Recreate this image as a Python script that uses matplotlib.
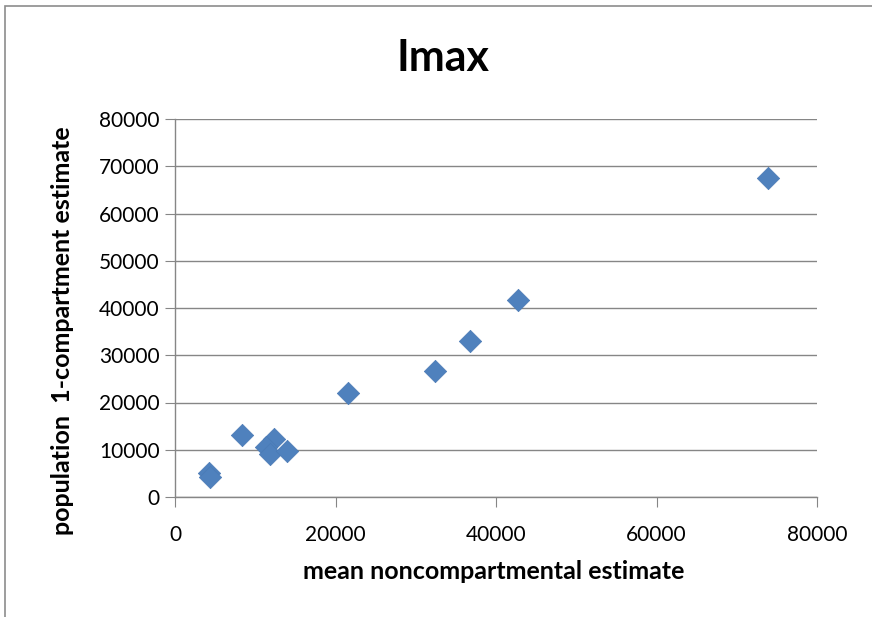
import matplotlib.pyplot as plt
from matplotlib.patches import Rectangle

plt.rcParams['font.family'] = ['Lato', 'DejaVu Sans']

noncompartmental = [73900, 42700, 36800, 32400, 21500, 8300, 12300, 11300, 11900, 13900, 4200, 4400]
one_compartment = [67600, 41600, 33000, 26600, 22000, 13100, 12300, 10600, 9000, 9800, 5000, 4300]
ticks = [0, 20000, 40000, 60000, 80000]
yticks = [0, 10000, 20000, 30000, 40000, 50000, 60000, 70000, 80000]

fig = plt.figure(figsize=(8.72, 6.17), dpi=100)
ax = fig.add_axes([175/872, 1 - 497/617, (817-175)/872, (497-119)/617])

# outer chart border
fig.patches.append(Rectangle((5/872, -0.1), 1.2, 1 - 6/617 + 0.1, transform=fig.transFigure,
                             fill=False, edgecolor='#8c8c8c', linewidth=1.2))

ax.scatter(noncompartmental, one_compartment, marker='D', s=130, color='#4F81BD',
           edgecolors='#4a7ab5', linewidths=0.5, zorder=3)

ax.set_xlim(0, 80000)
ax.set_ylim(0, 80000)
ax.set_xticks(ticks)
ax.set_yticks(yticks)
ax.yaxis.grid(True, color='#868686', linewidth=1.0)
ax.set_axisbelow(True)
for s in ['top', 'right']:
    ax.spines[s].set_visible(False)
for s in ['left', 'bottom']:
    ax.spines[s].set_color('#868686')
    ax.spines[s].set_linewidth(1.0)
ax.tick_params(axis='both', colors='#868686', labelcolor='black', labelsize=15,
               length=7, direction='out')
ax.tick_params(axis='y', pad=4)
ax.tick_params(axis='x', pad=13)

fig.text(443/872, 1 - 58/617, 'Imax', fontsize=31, fontweight='bold', ha='center', va='center')
ax.set_xlabel('mean noncompartmental estimate', fontsize=18, fontweight='bold', va='center')
ax.set_ylabel('population  1-compartment estimate', fontsize=18, fontweight='bold', va='center')
ax.xaxis.set_label_coords(0.497, -0.198)
ax.yaxis.set_label_coords(-0.176, 0.439)

fig.savefig('out.png', dpi=100)
